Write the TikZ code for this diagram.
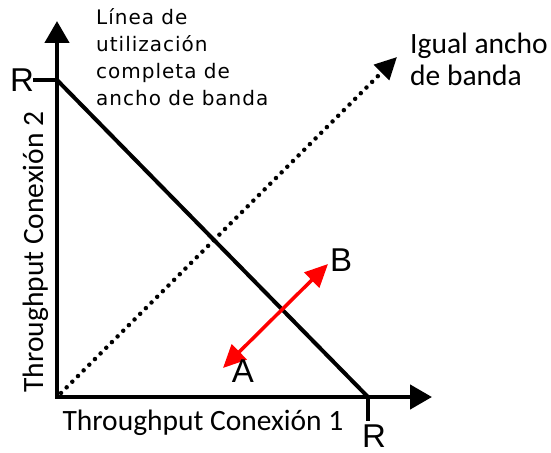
\documentclass[tikz,border=0pt]{standalone}
\usepackage{fontspec}
\setmainfont{Carlito}
\newfontfamily\arialfont{Liberation Sans}
\newfontfamily\verdfont[LetterSpace=5]{DejaVu Sans}
\usetikzlibrary{arrows.meta}

\tikzset{
  axis/.style={line width=4.5bp,line join=miter},
  bigletter/.style={inner sep=0pt,font=\arialfont\fontsize{33bp}{33bp}\selectfont},
  caption/.style={inner sep=0pt,font=\fontsize{29.5bp}{32bp}\selectfont},
}

\begin{document}
\begin{tikzpicture}[x=1bp,y=-1bp,>={Triangle[length=22bp,width=24bp]}]
\useasboundingbox (0,0) rectangle (551,453);
% axes
\coordinate (O) at (57,397);
\coordinate (ytop) at (57,21);
\coordinate (xend) at (432,397);
\draw[axis,<->] (ytop) |- (xend);
% R marks
\coordinate (ry) at (57,80);
\coordinate (rx) at (368,397);
\coordinate (ryt) at (33,80);
\coordinate (rxt) at (368,421);
\draw[axis] (ry)--(ryt);
\draw[axis] (rx)--(rxt);
\node[bigletter] (Rleft) at (22,80){R};
\node[bigletter] (Rbot) at (374,436){R};
% full use line
\draw[line width=4bp] (ry)--(rx);
% equal share line
\coordinate (d0) at (61,393);
\coordinate (d1) at (397,57);
\draw[line width=4.5bp,line cap=round,dash pattern=on 0bp off 8bp,
  ->,>={Triangle[length=22bp,width=21bp]}] (d0)--(d1);
% A <-> B
\coordinate (pa) at (223,368);
\coordinate (pb) at (328,264);
\draw[red,line width=3.5bp,<->,>={Triangle[length=23bp,width=21bp]}] (pa)--(pb);
\node[bigletter] (A) at (243,371){A};
\node[bigletter] (B) at (341,260){B};
% texts
\node[inner sep=0pt,anchor=north west,align=left,
  font=\verdfont\fontsize{20bp}{27bp}\selectfont] (full) at (96,8)
  {Línea de\\utilización\\completa de\\ancho de banda};
\node[caption,anchor=north west,align=left] (equal) at (410,33)
  {Igual ancho\\de banda};
\node[caption,anchor=base] (xlab) at (203,430){Throughput Conexión 1};
\node[caption,anchor=base,rotate=90] (ylab) at (43,252){Throughput Conexión 2};
\end{tikzpicture}
\end{document}
